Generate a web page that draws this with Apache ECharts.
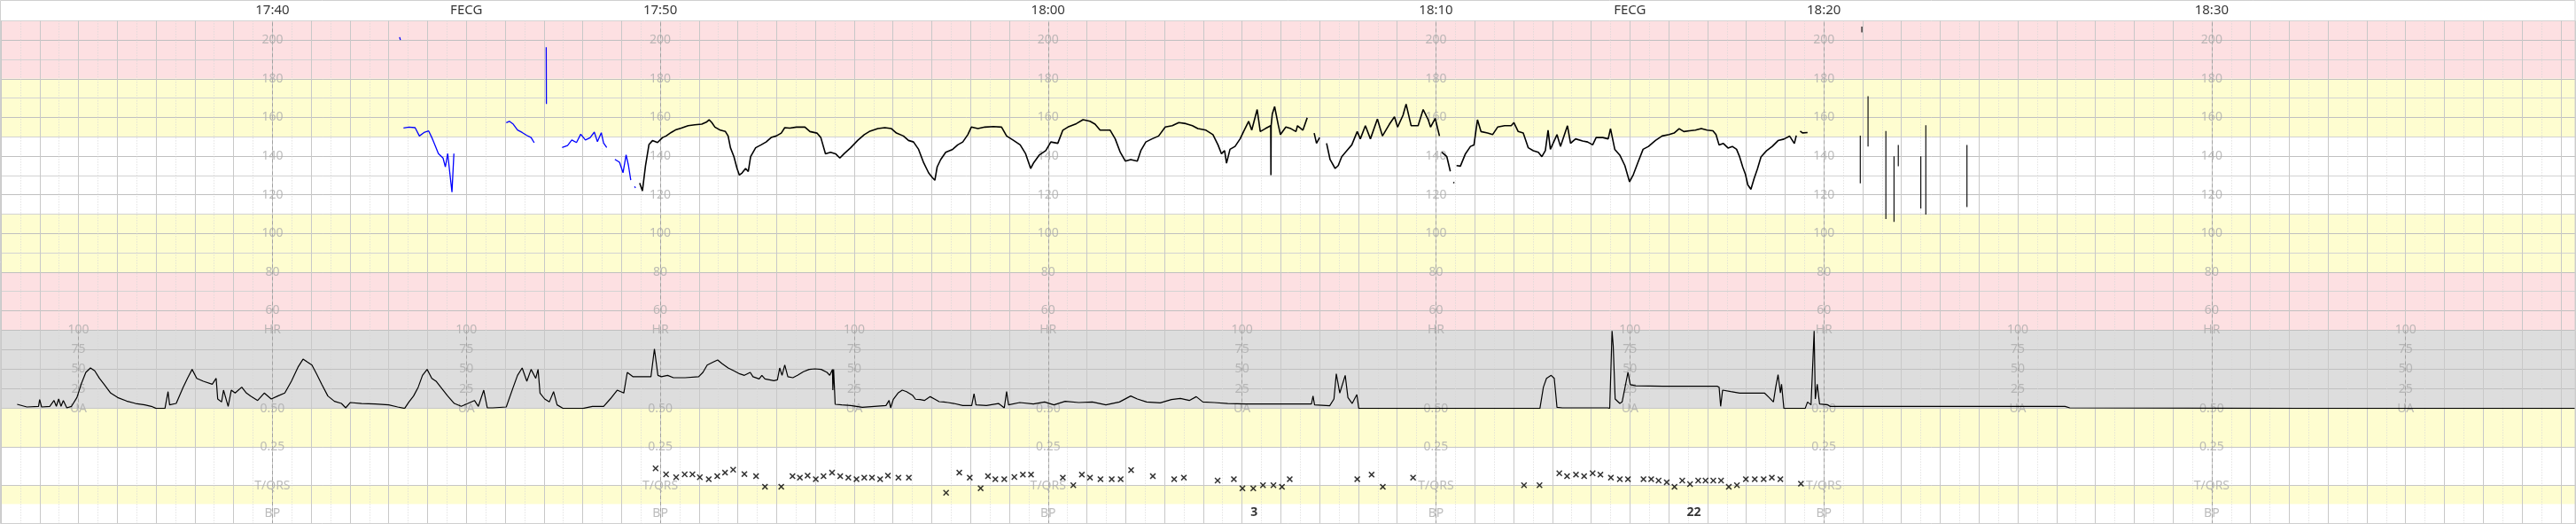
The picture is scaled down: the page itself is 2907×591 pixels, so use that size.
<!DOCTYPE html>
<html><head><meta charset="utf-8">
<script src="https://cdn.jsdelivr.net/npm/echarts@6/dist/echarts.min.js"></script>
<style>html,body{margin:0;padding:0;background:#fff;overflow:hidden}#c{width:2907px;height:591px}</style>
</head><body><div id="c"></div>
<script>
// ---- time is in minutes after 17:00 ----
const headerTimes = [40, 50, 60, 70, 80, 90];
const headerTexts = ['17:40', '17:50', '18:00', '18:10', '18:20', '18:30'];
const modeTimes = [45, 75];
const modeTexts = ['FECG', 'FECG'];
const fhrAxisTimes = [40, 50, 60, 70, 80, 90];
const uaAxisTimes = [35, 45, 55, 65, 75, 85, 95];
const fhrTickValues = [200, 180, 160, 140, 120, 100, 80, 60, 50];
const fhrTickTexts = ['200', '180', '160', '140', '120', '100', '80', '60', 'HR'];
const uaTickValues = [100, 75, 50, 25, 0];
const uaTickTexts = ['100', '75', '50', '25', 'UA'];
const lowTickValues = [0.5, 0.25, 0, -0.18];
const lowTickTexts = ['0.50', '0.25', 'T/QRS', 'BP'];
const fhrBandsRed = [[180, 210], [50, 80]];
const fhrBandsYellow = [[150, 180], [80, 110]];
const lowBandsYellow = [[0.25, 0.5], [-0.12, 0]];
const bpTimes = [65.31, 76.65];
const bpTexts = ['3', '22'];
const bpLevel = -0.175;

// fetal heart rate (black, bpm)
const fhrBlack = [[49.47,126],[49.54,122],[49.62,135],[49.71,146],[49.80,148],[49.93,147],[50.06,149.6],[50.15,150.4],[50.28,152.2],[50.41,153.7],[50.54,154.5],[50.72,155.7],[50.89,156.2],[51.07,156.5],[51.20,157.7],[51.26,158.8],[51.33,157.3],[51.41,155],[51.55,153.4],[51.68,152.7],[51.75,150.4],[51.81,144.3],[51.90,139.7],[51.98,133.6],[52.04,130.2],[52.11,131.3],[52.20,133.6],[52.27,132],[52.33,139.7],[52.46,144.3],[52.60,145.8],[52.73,147.3],[52.86,149.6],[52.99,150.4],[53.12,151.9],[53.21,154.7],[53.34,154.5],[53.51,155],[53.73,155],[53.86,152.7],[54.04,151.9],[54.14,149.6],[54.26,141.2],[54.39,142],[54.52,141.2],[54.63,139],[54.74,141.2],[54.91,144.3],[55.09,148.1],[55.26,151.1],[55.39,152.7],[55.61,154.2],[55.79,154.7],[55.96,154.2],[56.09,151.9],[56.27,150.4],[56.40,148.1],[56.53,147.3],[56.66,143.5],[56.79,136.6],[56.92,131.3],[57.01,129],[57.08,127.5],[57.14,134.4],[57.23,138.2],[57.36,142],[57.54,143.5],[57.67,145.8],[57.80,147.3],[57.93,151.1],[58.02,155],[58.19,154.2],[58.37,155],[58.59,155.3],[58.80,155],[58.93,150.4],[59.11,148.1],[59.28,145.8],[59.42,141.2],[59.55,133.6],[59.63,136.6],[59.77,140.5],[59.94,142.8],[60.07,147.3],[60.25,146.6],[60.38,153.4],[60.51,155],[60.73,156.8],[60.90,158.8],[61.08,158],[61.21,156.5],[61.34,153.4],[61.60,153.4],[61.73,148.9],[61.86,142],[61.99,137.4],[62.13,138.2],[62.30,137.4],[62.39,142.8],[62.52,147.3],[62.68,148.9],[62.85,150.4],[63.02,155],[63.20,155.7],[63.37,157.3],[63.55,156.8],[63.72,155.7],[63.86,154.2],[64.07,153.4],[64.25,151.1],[64.38,145.8],[64.47,141.2],[64.55,142.8],[64.60,136.3],[64.69,143.5],[64.82,145],[64.95,148.9],[65.04,152.7],[65.17,158],[65.25,153.4],[65.39,164.1],[65.47,152.7],[65.60,154.2],[65.74,155.7],[65.745,130.2],[65.75,155.7],[65.78,161.8],[65.84,165.6],[65.93,156.5],[65.99,151.1],[66.13,155],[66.26,154.2],[66.39,152.7],[66.43,155.7],[66.57,153.4],[66.68,159.8],null,[66.86,151.9],[66.92,146.6],[67.00,149.6],null,[67.18,146.6],[67.27,138.2],[67.40,133.6],[67.48,135.1],[67.57,139.7],[67.70,142.8],[67.83,145.8],[67.97,152.7],[68.05,148.9],[68.18,155.7],[68.31,148.9],[68.49,159.2],[68.62,150.4],[68.80,156.5],[68.93,160.3],[69.01,155],[69.15,161.1],[69.23,166.9],[69.36,155.7],[69.54,155.7],[69.67,164.1],[69.80,158.8],[69.86,155],[69.98,159.5],[70.09,150.4],null,[70.15,142],[70.28,139.7],[70.37,132.1],null,[70.45,126.5],[70.47,126],null,[70.53,135.1],[70.63,134.8],[70.76,141.2],[70.89,145],[70.98,145.8],[71.07,158.8],[71.16,152.7],[71.33,151.9],[71.46,151.1],[71.59,155],[71.77,155.7],[71.94,155.7],[72.01,157.3],[72.12,152.7],[72.25,151.9],[72.38,144.3],[72.51,142.8],[72.64,142],[72.73,139.7],[72.82,142.8],[72.89,153.4],[72.95,143.5],[73.12,151.1],[73.21,145],[73.39,155.7],[73.47,146.6],[73.60,148.9],[73.78,147.8],[73.91,147.3],[74.04,145.8],[74.13,149.6],[74.30,149.6],[74.44,148.9],[74.50,154.2],[74.61,143.5],[74.74,140.5],[74.87,135.1],[74.99,126.7],[75.09,130.5],[75.22,137.4],[75.34,143.5],[75.48,145],[75.66,148.1],[75.83,150.4],[76.01,151.1],[76.14,151.9],[76.27,154.2],[76.39,152.7],[76.54,153.1],[76.69,153.4],[76.84,154.2],[76.99,153.4],[77.14,153.1],[77.22,151.1],[77.30,145.7],[77.41,146.5],[77.53,144.2],[77.64,145],[77.75,143.5],[77.83,139.6],[77.91,134.3],[77.98,130.5],[78.04,125.1],[78.12,122.8],[78.20,128.2],[78.29,133.5],[78.38,139.6],[78.52,142.7],[78.67,145],[78.82,148],[78.97,148.8],[79.12,150.3],[79.24,146.5],[79.29,150.6],null,[79.39,152.9],[79.45,152],[79.58,152.2]];

// FECG segment (blue, bpm)
const fhrBlue = [[43.28,201.5],[43.30,200],null,[43.38,154.5],[43.52,155],[43.68,154.7],[43.79,150.4],[43.91,152.2],[44.03,153],[44.11,149.6],[44.19,145.8],[44.28,141.3],[44.40,139],[44.46,134.4],[44.52,141.3],[44.57,132.1],[44.63,121.4],[44.68,141.3],null,[46.03,157.3],[46.11,158],[46.21,156.5],[46.32,153.5],[46.44,152.2],[46.56,150.7],[46.67,149.6],[46.75,146.9],null,[47.06,196.3],[47.065,167],null,[47.47,144.4],[47.61,145.5],[47.72,148.3],[47.84,147],[47.95,151.3],[48.07,148.3],[48.19,149.5],[48.30,152.4],[48.38,147.5],[48.48,152.1],[48.54,146.7],[48.62,144.4],null,[48.83,138.3],[48.95,136.8],[49.04,131.4],[49.12,140.6],[49.18,135.2],[49.24,127.6],null,[49.34,124.3],[49.36,123.5]];

// artefact strokes after 18:20 (bpm)
const fhrStrokes = [[80.94,150.6],[80.94,125.9],null,[80.98,207],[80.98,204],null,[81.14,171],[81.14,145],null,[81.60,153],[81.60,107.5],null,[81.81,139.9],[81.81,106],null,[81.92,145.7],[81.92,134.7],null,[82.50,139.9],[82.50,112.9],null,[82.63,156],[82.63,109.8],null,[83.69,145.7],[83.69,113.6]];

// uterine activity
const uaValues = [[33.42,5.2],[33.67,1.8],[33.97,2.6],[34.00,11.3],[34.05,1.8],[34.26,2.6],[34.37,10.1],[34.43,2.6],[34.49,12],[34.55,2.6],[34.61,10.1],[34.70,0.7],[34.82,2.6],[34.96,13.9],[35.07,30.9],[35.19,46],[35.31,51.6],[35.42,47.9],[35.54,38.4],[35.66,30.9],[35.83,19.6],[36.01,13.9],[36.24,9.4],[36.47,6.3],[36.71,4.5],[36.88,2.6],[37.00,0],[37.23,0],[37.31,21.4],[37.35,4.5],[37.52,6.3],[37.70,27.1],[37.81,38.4],[37.93,49.8],[38.05,38.4],[38.22,34.7],[38.45,30.9],[38.55,38.4],[38.59,12],[38.69,8.2],[38.74,23.3],[38.86,2.6],[38.94,23.3],[39.04,19.6],[39.21,27.1],[39.33,19.6],[39.44,15.8],[39.62,10.1],[39.79,19.6],[39.97,12],[40.14,15.8],[40.32,19.6],[40.49,34.7],[40.67,53.5],[40.79,62.9],[40.90,59.2],[41.02,55.4],[41.14,44.1],[41.27,30.9],[41.43,15.8],[41.60,9],[41.78,6.3],[41.89,0.7],[42.01,7.5],[42.30,6.3],[42.65,5.6],[43.00,4.5],[43.23,1.8],[43.41,0],[43.52,8.2],[43.64,15.8],[43.76,27.1],[43.87,42.2],[43.99,49.8],[44.11,38.4],[44.22,34.7],[44.34,27.1],[44.52,15.8],[44.69,6.3],[44.87,2.6],[45.04,6.3],[45.21,10.1],[45.31,2.6],[45.45,23.3],[45.54,0.7],[45.68,0.7],[46.03,1.8],[46.21,27.1],[46.32,42.2],[46.44,51.6],[46.56,34.7],[46.67,49.8],[46.79,38.4],[46.85,49.8],[46.90,19.6],[47.02,12],[47.14,8.2],[47.25,21.4],[47.34,4.5],[47.49,0],[48.01,0],[48.25,2.6],[48.54,2.6],[48.71,12],[48.89,23.3],[49.06,19.6],[49.15,46],[49.30,40.4],[49.76,40.4],[49.85,76],[49.94,42.2],[50.03,40.4],[50.19,42.2],[50.34,39.2],[50.64,39.2],[50.99,40.4],[51.10,46],[51.21,55.4],[51.37,59.2],[51.48,61.8],[51.59,57.3],[51.75,51.6],[51.90,47.9],[52.05,44.1],[52.17,42.2],[52.32,46],[52.39,40.4],[52.55,37.7],[52.62,42.2],[52.70,37.7],[52.93,35.4],[53.02,36.5],[53.08,51.6],[53.14,42.2],[53.21,55.4],[53.29,40.4],[53.42,39.2],[53.54,42.2],[53.69,46.8],[53.84,49.8],[53.99,50.5],[54.15,49.8],[54.30,46],[54.37,42.2],[54.44,49.8],[54.45,23.3],[54.47,49.8],[54.51,5.2],[54.68,4.5],[54.91,3.7],[55.21,1.4],[55.52,2.6],[55.82,3.7],[55.90,10.1],[55.94,0.7],[56.01,11.7],[56.13,19.6],[56.24,23.3],[56.35,21.4],[56.51,16.5],[56.58,11.7],[56.70,11.3],[56.81,10.1],[56.96,15],[57.08,11.7],[57.19,8.6],[57.31,8.2],[57.42,7.5],[57.57,6.3],[57.80,3.7],[58.03,3.7],[58.09,18.8],[58.14,4.5],[58.41,3.7],[58.72,6.3],[58.87,0.7],[58.93,21.4],[58.98,4.5],[59.27,7.5],[59.62,5.6],[59.91,8.2],[60.15,4.5],[60.44,9],[60.79,7.5],[61.14,8.2],[61.49,4.5],[61.84,8.2],[62.13,15.8],[62.30,12],[62.54,8.2],[62.89,7.1],[63.18,11.3],[63.41,12.8],[63.64,10.1],[63.82,15],[63.99,8.2],[64.28,7.5],[64.63,6.3],[65.10,5.6],[65.68,5.6],[66.27,5.6],[66.79,5.6],[66.83,15.8],[66.87,4.5],[67.26,3.3],[67.37,12],[67.43,44.1],[67.52,19.6],[67.66,42.2],[67.73,13.9],[67.84,6.3],[67.96,17.7],[68.01,0],[68.60,0],[69.76,0],[70.93,0],[72.68,0],[72.77,27.1],[72.85,38.4],[72.97,42.2],[73.05,38.4],[73.12,1.4],[73.26,0.7],[74.43,0.7],[74.48,0],[74.54,98.8],[74.57,79.9],[74.62,12],[74.74,6.3],[74.80,8.2],[74.89,30.9],[74.95,46],[75.01,30.2],[75.15,28.8],[75.85,28.3],[76.43,28.3],[77.25,28.3],[77.30,27.1],[77.34,2.6],[77.39,23.3],[77.60,21.4],[77.83,19.6],[78.47,19.6],[78.59,13.9],[78.70,8.2],[78.76,27.1],[78.82,43],[78.88,19.6],[78.91,30.9],[78.97,0],[79.52,0],[79.58,8.2],[79.67,4.5],[79.75,98.8],[79.78,12],[79.83,30.9],[79.89,5.6],[80.10,4.5],[80.16,2.6],[86.22,2.6],[86.34,0.7],[92.38,0],[99.37,0]];

// T/QRS ratio marks
const tqrsValues = [[49.88,0.111],[50.15,0.072],[50.41,0.053],[50.63,0.072],[50.83,0.072],[51.02,0.053],[51.25,0.041],[51.47,0.060],[51.67,0.083],[51.88,0.102],[52.17,0.074],[52.47,0.060],[52.70,-0.008],[53.12,-0.008],[53.41,0.060],[53.60,0.051],[53.80,0.064],[54.01,0.041],[54.21,0.060],[54.43,0.083],[54.64,0.060],[54.85,0.051],[55.06,0.041],[55.26,0.051],[55.46,0.051],[55.67,0.041],[55.87,0.064],[56.14,0.051],[56.41,0.051],[57.37,-0.047],[57.71,0.083],[57.98,0.051],[58.26,-0.018],[58.45,0.060],[58.64,0.041],[58.87,0.041],[59.13,0.055],[59.35,0.070],[59.56,0.070],[60.38,0.051],[60.65,0.002],[60.87,0.070],[61.08,0.051],[61.35,0.041],[61.64,0.041],[61.87,0.041],[62.14,0.100],[62.70,0.060],[63.25,0.041],[63.50,0.051],[64.37,0.032],[64.79,0.041],[65.01,-0.019],[65.29,-0.019],[65.54,0.002],[65.81,0.002],[66.03,-0.009],[66.23,0.041],[67.97,0.041],[68.34,0.070],[68.63,-0.009],[69.41,0.051],[72.27,0.002],[72.67,0.002],[73.18,0.079],[73.38,0.060],[73.61,0.070],[73.82,0.060],[74.04,0.079],[74.24,0.070],[74.51,0.051],[74.74,0.041],[74.95,0.041],[75.35,0.041],[75.55,0.041],[75.74,0.032],[75.95,0.021],[76.15,-0.009],[76.35,0.032],[76.55,0.009],[76.76,0.032],[76.95,0.032],[77.15,0.032],[77.35,0.032],[77.55,-0.009],[77.76,0.002],[77.99,0.041],[78.22,0.041],[78.45,0.041],[78.66,0.051],[78.88,0.041],[79.41,0.011]];

// ---------------- chart ----------------
const T_MIN = 33, T_MAX = 99.37;
const FONT = 'Noto Sans';
const PINK = '#fde0e2', YELLOW = '#fefdd0', GREY = '#dddddd';
const LABEL_GREY = '#ababab';

const chart = echarts.init(document.getElementById('c'), null, {renderer: 'canvas'});

const grids = [
  {left: 1, width: 2905, top: 23.4, height: 348.9},
  {left: 1, width: 2905, top: 372.3, height: 88.3},
  {left: 1, width: 2905, top: 460.6, height: 132.6}
];
const xAxes = grids.map((g, i) => ({
  type: 'value', gridIndex: i, min: T_MIN, max: T_MAX, interval: 1, z: 3,
  axisLine: {show: false}, axisTick: {show: false}, axisLabel: {show: false},
  splitLine: {show: true, lineStyle: {color: '#c8c8c8', width: 1}},
  minorTick: {show: false, splitNumber: 2},
  minorSplitLine: {show: true, lineStyle: {color: '#d6d6d6', width: 1, type: [1, 2]}}
}));
const hideAxis = {axisLine: {show: false}, axisTick: {show: false}, axisLabel: {show: false}};
const yAxes = [
  Object.assign({type: 'value', gridIndex: 0, min: 50, max: 210, interval: 10, z: 3,
    splitLine: {show: true, lineStyle: {color: ['#d3d3d3', '#c0c0c0']}}}, hideAxis),
  Object.assign({type: 'value', gridIndex: 1, min: 0, max: 100, interval: 25, z: 3,
    splitLine: {show: true, lineStyle: {color: '#c0c0c0'}}}, hideAxis),
  Object.assign({type: 'value', gridIndex: 2, min: -0.25, max: 0.5, interval: 0.25, z: 3,
    splitLine: {show: true, lineStyle: {color: '#c6c6c6'}}}, hideAxis)
];

const band = (arr, color) => arr.map(b => [{yAxis: b[0], itemStyle: {color}}, {yAxis: b[1]}]);
const vlines = times => times.map(t => ({xAxis: t}));
const dashed = {type: [4, 3], color: '#a0a0a0', width: 1};

function bgSeries(gi, areas, lineTimes) {
  return {
    type: 'line', xAxisIndex: gi, yAxisIndex: gi, data: [], z: 1, silent: true,
    markArea: {silent: true, data: areas},
    markLine: {silent: true, symbol: ['none', 'none'], label: {show: false},
      lineStyle: dashed, data: vlines(lineTimes)}
  };
}

function textSeries(gi, items, labelStyle, z) {
  return {
    type: 'scatter', xAxisIndex: gi, yAxisIndex: gi, z: z || 5, silent: true,
    symbolSize: 1, itemStyle: {color: 'rgba(0,0,0,0)'}, clip: false,
    data: items,
    label: Object.assign({show: true, position: 'inside', formatter: p => p.data.text,
      fontFamily: FONT}, labelStyle)
  };
}

const fhrLabelItems = [];
fhrAxisTimes.forEach(t => fhrTickValues.forEach((v, i) =>
  fhrLabelItems.push({value: [t, v], text: fhrTickTexts[i]})));
const uaLabelItems = [];
uaAxisTimes.forEach(t => uaTickValues.forEach((v, i) =>
  uaLabelItems.push({value: [t, v], text: uaTickTexts[i]})));
const lowLabelItems = [];
fhrAxisTimes.forEach(t => lowTickValues.forEach((v, i) =>
  lowLabelItems.push({value: [t, v], text: lowTickTexts[i]})));
const headerItems = headerTimes.map((t, i) => ({value: [t, 210], text: headerTexts[i]}))
  .concat(modeTimes.map((t, i) => ({value: [t, 210], text: modeTexts[i]})));
const bpItems = bpTimes.map((t, i) => ({value: [t, bpLevel], text: bpTexts[i]}));

const xMark = 'path://M0,1.5L1.5,0L5,3.5L8.5,0L10,1.5L6.5,5L10,8.5L8.5,10L5,6.5L1.5,10L0,8.5L3.5,5Z';

const option = {
  animation: false,
  backgroundColor: '#ffffff',
  grid: grids,
  xAxis: xAxes,
  yAxis: yAxes,
  graphic: [{type: 'rect', silent: true, z: 100,
    shape: {x: 0.5, y: 0.5, width: 2905.5, height: 590},
    style: {fill: 'none', stroke: '#cfcfcf', lineWidth: 1}}],
  series: [
    bgSeries(0, band(fhrBandsRed, PINK).concat(band(fhrBandsYellow, YELLOW)), fhrAxisTimes),
    bgSeries(1, [[{yAxis: 0, itemStyle: {color: GREY}}, {yAxis: 100}]], fhrAxisTimes.concat(uaAxisTimes)),
    bgSeries(2, band(lowBandsYellow, YELLOW), fhrAxisTimes),
    {type: 'line', name: 'FHR', xAxisIndex: 0, yAxisIndex: 0, data: fhrBlack, showSymbol: false,
      connectNulls: false, z: 10, silent: true, lineStyle: {color: '#000', width: 1.6}},
    {type: 'line', name: 'FECG', xAxisIndex: 0, yAxisIndex: 0, data: fhrBlue, showSymbol: false,
      connectNulls: false, z: 10, silent: true, lineStyle: {color: '#0000ff', width: 1.3}},
    {type: 'line', name: 'Artefact', xAxisIndex: 0, yAxisIndex: 0, data: fhrStrokes, showSymbol: false,
      connectNulls: false, z: 10, silent: true, lineStyle: {color: '#111', width: 1.2}},
    {type: 'line', name: 'UA', xAxisIndex: 1, yAxisIndex: 1, data: uaValues, showSymbol: false,
      z: 10, silent: true, lineStyle: {color: '#000', width: 1.2}},
    {type: 'scatter', name: 'T/QRS', xAxisIndex: 2, yAxisIndex: 2, data: tqrsValues, z: 10, silent: true,
      symbol: xMark, symbolSize: 7, itemStyle: {color: '#000'}},
    textSeries(0, fhrLabelItems, {color: LABEL_GREY, fontSize: 14}),
    textSeries(1, uaLabelItems, {color: LABEL_GREY, fontSize: 14}),
    textSeries(2, lowLabelItems, {color: LABEL_GREY, fontSize: 14}),
    textSeries(0, headerItems, {color: '#000', fontSize: 15, offset: [0, -12]}),
    textSeries(2, bpItems, {color: '#000', fontSize: 14, fontWeight: 'bold'})
  ]
};
chart.setOption(option);
</script>
</body></html>
